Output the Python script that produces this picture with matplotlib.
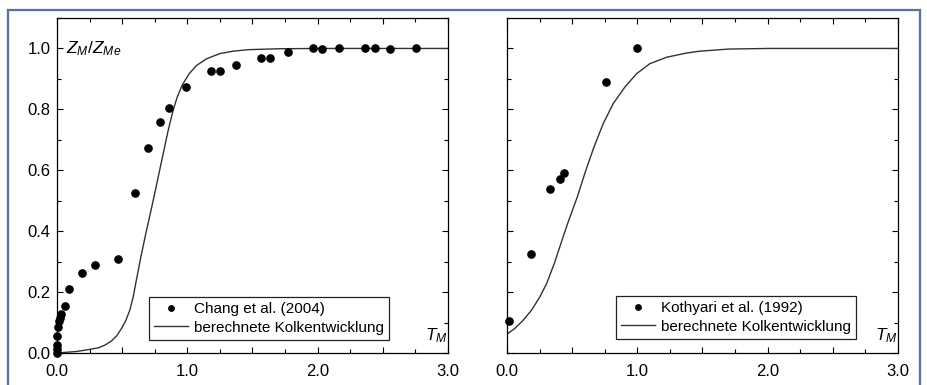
import matplotlib
matplotlib.use("Agg")
import matplotlib.pyplot as plt
from matplotlib.patches import Rectangle
from matplotlib.ticker import MultipleLocator, FuncFormatter

plt.rcParams['font.family'] = ['Liberation Sans', 'DejaVu Sans']
plt.rcParams['font.size'] = 11
plt.rcParams['mathtext.fontset'] = 'custom'
plt.rcParams['mathtext.it'] = 'Liberation Sans:italic'
plt.rcParams['mathtext.rm'] = 'Liberation Sans'

# Chang et al. (2004) - Messpunkte
chang_t = [0.0, 0.0, 0.0, 0.003, 0.008, 0.016, 0.025, 0.034, 0.062, 0.092,
           0.195, 0.29, 0.465, 0.598, 0.695, 0.789, 0.858, 0.986, 1.18, 1.247,
           1.374, 1.568, 1.632, 1.775, 1.964, 2.03, 2.163, 2.365, 2.439, 2.557, 2.753]
chang_z = [0.0, 0.012, 0.025, 0.056, 0.085, 0.105, 0.115, 0.128, 0.155, 0.21,
           0.262, 0.29, 0.31, 0.527, 0.672, 0.758, 0.803, 0.873, 0.925, 0.925,
           0.945, 0.969, 0.969, 0.99, 1.0, 0.997, 1.0, 1.0, 1.0, 0.999, 1.0]

# berechnete Kolkentwicklung (links)
calc1_t = [0.0, 0.151, 0.253, 0.317, 0.368, 0.419, 0.457, 0.496, 0.529, 0.559,
           0.585, 0.607, 0.646, 0.687, 0.730, 0.771, 0.812, 0.853, 0.891, 0.922,
           0.960, 1.014, 1.070, 1.147, 1.249, 1.351, 1.466, 1.7, 2.0, 3.0]
calc1_z = [0.0, 0.005, 0.012, 0.017, 0.026, 0.040, 0.056, 0.081, 0.108, 0.141,
           0.185, 0.235, 0.321, 0.403, 0.485, 0.567, 0.649, 0.731, 0.797, 0.840,
           0.879, 0.917, 0.944, 0.966, 0.983, 0.991, 0.996, 0.999, 1.0, 1.0]

# Kothyari et al. (1992) - Messpunkte
koth_t = [0.015, 0.186, 0.332, 0.41, 0.44, 0.759, 1.0]
koth_z = [0.106, 0.325, 0.54, 0.571, 0.592, 0.889, 1.0]

# berechnete Kolkentwicklung (rechts)
calc2_t = [0.0, 0.061, 0.125, 0.189, 0.253, 0.304, 0.363, 0.414, 0.465, 0.539,
           0.605, 0.667, 0.738, 0.815, 0.904, 0.994, 1.096, 1.224, 1.377, 1.479,
           1.7, 2.0, 3.0]
calc2_z = [0.062, 0.081, 0.108, 0.141, 0.185, 0.228, 0.294, 0.360, 0.425, 0.512,
           0.600, 0.676, 0.753, 0.819, 0.873, 0.917, 0.950, 0.971, 0.985, 0.991,
           0.998, 1.0, 1.0]

fig = plt.figure(figsize=(9.28, 3.85), dpi=100)
fig.patch.set_facecolor('white')

# blauer Rahmen
fig.patches.append(Rectangle((8/928, -0.01), 912/928, 1 - 10/385 + 0.01,
                             transform=fig.transFigure, fill=False,
                             edgecolor='#5a6e9c', linewidth=1.6))

ax1 = fig.add_axes([57/928, 1 - 353/385, 391/928, 335/385])
ax2 = fig.add_axes([507/928, 1 - 353/385, 391/928, 335/385])

ax1.plot(chang_t, chang_z, 'o', color='black', markersize=5.2, clip_on=False,
         label='Chang et al. (2004)', zorder=3)
ax1.plot(calc1_t, calc1_z, '-', color='#3a2f2f', linewidth=1.0,
         label='berechnete Kolkentwicklung')
ax2.plot(koth_t, koth_z, 'o', color='black', markersize=5.2, clip_on=False,
         label='Kothyari et al. (1992)', zorder=3)
ax2.plot(calc2_t, calc2_z, '-', color='#3a2f2f', linewidth=1.0,
         label='berechnete Kolkentwicklung')

def int_label(v, pos):
    return f'{v:.1f}' if abs(v - round(v)) < 1e-6 else ''

for ax, anchor in ((ax1, (0.849, 0.039)), (ax2, (0.893, 0.042))):
    ax.set_xlim(0, 3.0)
    ax.set_ylim(0, 1.1)
    ax.xaxis.set_major_locator(MultipleLocator(0.5))
    ax.xaxis.set_minor_locator(MultipleLocator(0.25))
    ax.xaxis.set_major_formatter(FuncFormatter(int_label))
    ax.yaxis.set_major_locator(MultipleLocator(0.2))
    ax.yaxis.set_minor_locator(MultipleLocator(0.1))
    ax.yaxis.set_major_formatter(FuncFormatter(lambda v, p: f'{v:.1f}'))
    ax.tick_params(which='both', direction='in', top=True, right=True,
                   width=0.8, labelsize=12)
    ax.tick_params(axis='x', which='major', pad=8)
    ax.tick_params(axis='y', which='major', pad=4.5)
    ax.tick_params(which='major', length=4)
    ax.tick_params(which='minor', length=3)
    for s in ax.spines.values():
        s.set_linewidth(0.9)
    ax.text(2.82, 0.026, '$T_M$', fontsize=12.5, ha='left', va='bottom')
    leg = ax.legend(loc='lower right', bbox_to_anchor=anchor, frameon=True,
                    fancybox=False, edgecolor='#222222', framealpha=1,
                    handlelength=2.2, handletextpad=0.4, borderpad=0.35,
                    labelspacing=0.3, markerscale=0.75, fontsize=11,
                    borderaxespad=0)
    leg.get_frame().set_linewidth(0.9)

ax2.tick_params(labelleft=False)
ax1.text(0.07, 1.0, '$Z_M/Z_{Me}$', fontsize=12.5, ha='left', va='center')

fig.savefig('out.png', dpi=100)
